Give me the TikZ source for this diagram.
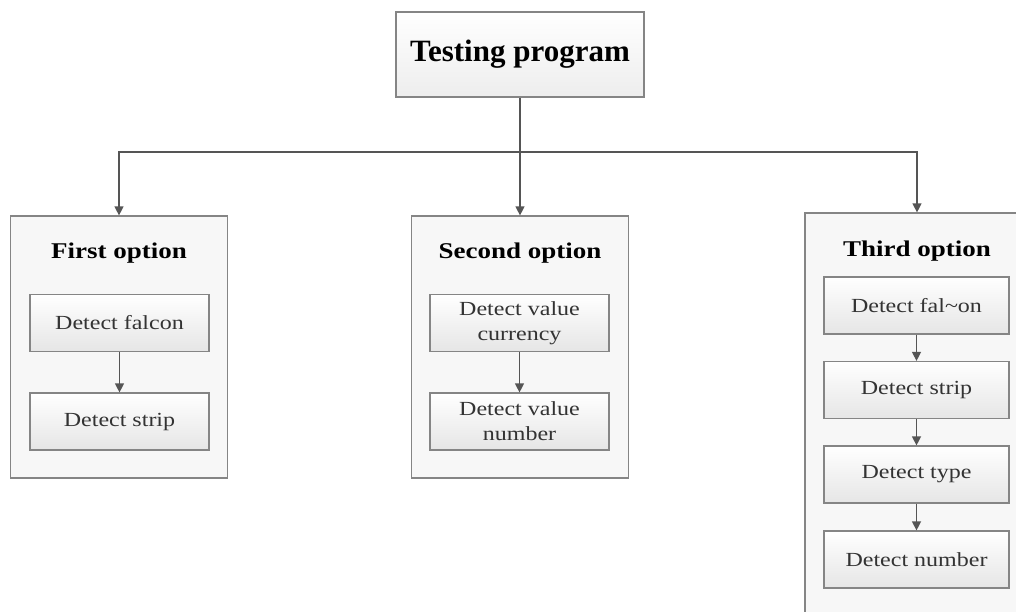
\documentclass[tikz,border=0pt]{standalone}
\usepackage{fontspec}
\setmainfont{Liberation Serif}
\newfontfamily\widefont{Liberation Serif}[FakeStretch=1.2]
\usetikzlibrary{arrows.meta}
\definecolor{edge}{HTML}{858585}
\definecolor{wire}{HTML}{555555}

\begin{document}
\begin{tikzpicture}[x=1pt, y=-1pt,
  program/.style={draw=edge, line width=1.2pt, top color=white, bottom color=black!7, minimum width=248, minimum height=85, font=\fontsize{31}{33}\selectfont\bfseries},
  option/.style={draw=edge, line width=1.2pt, fill=black!3, minimum width=217, minimum height=262},
  caption/.style={font=\widefont\fontsize{22.5}{26}\selectfont\bfseries},
  check/.style={draw=edge, line width=1.2pt, top color=white, bottom color=black!10, minimum width=179, minimum height=57, align=center, font=\widefont\fontsize{20}{25}\selectfont, text=black!80},
  transfer/.style={-{Triangle[length=9pt,width=9pt]}, draw=wire, line width=1.2pt},
]
\useasboundingbox (0,0) rectangle (1016,611);
\clip (0,0) rectangle (1016,611);

\node[program] (test) at (520,54.5) {Testing program};
\coordinate (split) at (520,152);

\node[option] (opt1) at (119,347) {};
\node[option] (opt2) at (520,347) {};
\node[option, minimum width=224, minimum height=420] (opt3) at (917,423) {};

\node[caption] (title1) at (119,253) {First option};
\node[caption] (title2) at (520,253) {Second option};
\node[caption] (title3) at (917,251) {Third option};

\node[check] (falcon1) at (119.5,323) {Detect falcon};
\node[check] (strip1) at (119.5,421.5) {Detect strip};
\node[check] (currency) at (519.5,323) {Detect value\\currency};
\node[check] (number2) at (519.5,421.5) {Detect value\\number};
\node[check, minimum width=185] (falcon3) at (916.5,305.5) {Detect fal\textasciitilde on};
\node[check, minimum width=185] (strip3) at (916.5,390) {Detect strip};
\node[check, minimum width=185] (type3) at (916.5,474.5) {Detect type};
\node[check, minimum width=185] (number3) at (916.5,559.5) {Detect number};

\draw[draw=wire, line width=1.2pt] (test) -- (split);
\draw[transfer] (split) -| (opt1.north);
\draw[transfer] (split) -- (opt2.north);
\draw[transfer] (split) -| (opt3.north);

\draw[transfer] (falcon1) -- (strip1);
\draw[transfer] (currency) -- (number2);
\draw[transfer] (falcon3) -- (strip3);
\draw[transfer] (strip3) -- (type3);
\draw[transfer] (type3) -- (number3);
\end{tikzpicture}
\end{document}
